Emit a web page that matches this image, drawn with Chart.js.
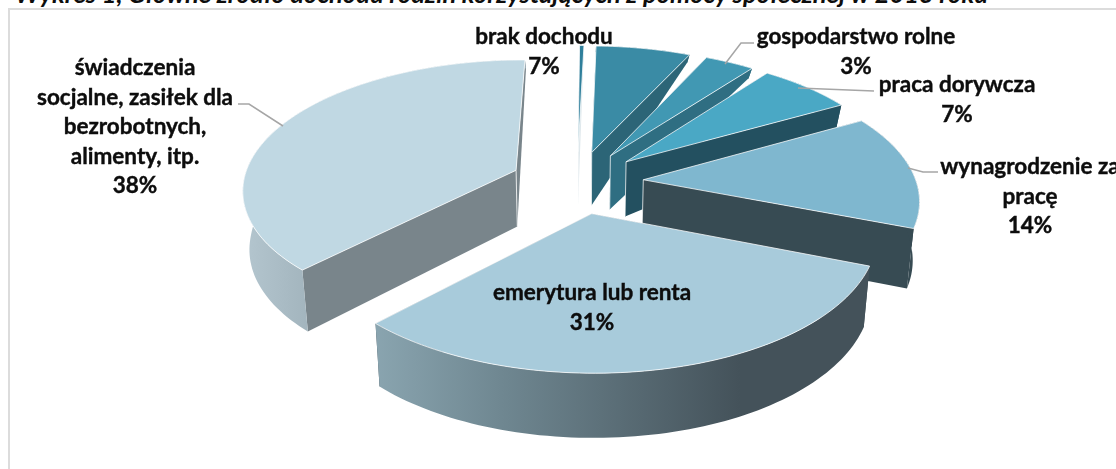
<!DOCTYPE html>
<html lang="pl">
<head>
<meta charset="utf-8">
<title>Wykres 1</title>
<script src="https://cdn.jsdelivr.net/npm/chart.js@4"></script>
<style>
    html, body { margin: 0; padding: 0; background: #fff; overflow: hidden; }
    #page { position: relative; width: 1116px; height: 469px; overflow: hidden; }
    #heading {
        position: absolute; right: 128px; top: -22px; line-height: 30px; white-space: nowrap;
        font-family: Lato, sans-serif; font-style: italic; font-weight: bold; font-size: 25.5px; color: #0d0d0d;
    }
    #panel {
        position: absolute; left: 8px; top: 8px; width: 1120px; height: 480px;
        border: 2px solid #dcdcdc; box-sizing: border-box;
    }
    canvas { position: absolute; left: 0; top: 0; }
</style>
</head>
<body>
<div id="page">
    <div id="heading">Wykres 1, Główne źródło dochodu rodzin korzystających z pomocy społecznej w 2013 roku</div>
    <div id="panel"></div>
    <canvas id="incomeChart" width="1116" height="469"></canvas>
</div>
<script>
// clockwise from the top of the pie; the first slice is the thin unlabelled one
const categories = ["", "brak dochodu", "gospodarstwo rolne", "praca dorywcza",
    "wynagrodzenie za pracę", "emerytura lub renta", "świadczenia socjalne, zasiłek dla bezrobotnych, alimenty, itp."];
const shares = [0.3, 6.5, 3.4, 6.5, 14.1, 31.3, 37.9];
const shareLabels = ["", "7%", "3%", "7%", "14%", "31%", "38%"];

const topColors = ["#2f7f9b", "#3a8ba5", "#4198b3", "#4aa8c5", "#7fb7cf", "#a8cbdb", "#c0d8e3"];
const wallColors = ["#dfe8ec", "#2c6577", "#2f6e82", "#235060", "#374b53", "#44525a", "#79858b"];

// label text blocks, line by line, with the place of each block
const labelBlocks = [
    { lines: ["brak dochodu", "7%"], x: 544, y: 37 },
    { lines: ["gospodarstwo rolne", "3%"], x: 856, y: 37 },
    { lines: ["praca dorywcza", "7%"], x: 957, y: 85 },
    { lines: ["wynagrodzenie za", "pracę", "14%"], x: 1030, y: 167 },
    { lines: ["emerytura lub renta", "31%"], x: 592, y: 293 },
    { lines: ["świadczenia", "socjalne, zasiłek dla", "bezrobotnych,", "alimenty, itp.", "38%"], x: 135, y: 68 }
];
const leaders = [
    [[238, 104], [249, 104], [283, 126]],
    [[754, 43], [741, 43], [725, 64]],
    [[874, 91], [798, 88]],
    [[938, 172], [923, 172], [908, 168]]
];

// tilted camera for the 3D look, fitted to the picture
const cam = { cx: 577, cy: 182, sx: 273, sy: 128.4, k: 0.136, lean: 0.98 };
const depthTable = [[-1.3, 5], [-0.95, 11], [-0.67, 23], [-0.24, 53], [0, 58], [1.3, 65]];

function depthAt(y) {
    for (let i = 1; i < depthTable.length; i++) {
        if (y <= depthTable[i][0]) {
            const [y0, d0] = depthTable[i - 1];
            const [y1, d1] = depthTable[i];
            return d0 + (d1 - d0) * (y - y0) / (y1 - y0);
        }
    }
    return depthTable[depthTable.length - 1][1];
}

function projectTop(x, y) {
    const s = 1 / (1 - cam.k * y);
    return { x: cam.cx + cam.sx * x * s, y: cam.cy + cam.sy * y * s };
}

function projectBottom(x, y) {
    const p = projectTop(x, y);
    return { x: cam.cx + (p.x - cam.cx) * cam.lean, y: p.y + depthAt(y) };
}

function fillPath(ctx, points, color) {
    ctx.beginPath();
    points.forEach((p, i) => i ? ctx.lineTo(p.x, p.y) : ctx.moveTo(p.x, p.y));
    ctx.closePath();
    ctx.fillStyle = color;
    ctx.fill();
}

function rimFill(ctx, i, fallback) {
    if (i === 5) {
        const g = ctx.createLinearGradient(373, 0, 740, 0);
        g.addColorStop(0, "#8aa5b0");
        g.addColorStop(0.35, "#6f8791");
        g.addColorStop(1, "#44525a");
        return g;
    }
    if (i === 6) {
        const g = ctx.createLinearGradient(243, 0, 310, 0);
        g.addColorStop(0, "#b4c6cf");
        g.addColorStop(1, "#a2b4bd");
        return g;
    }
    return fallback;
}

const pie3d = {
    id: "pie3d",
    beforeDatasetDraw(chart) {
        const ctx = chart.ctx;
        const arcs = chart.getDatasetMeta(0).data;
        // back slices first, the front slice last
        const order = [6, 0, 1, 2, 3, 4, 5];
        order.forEach(i => {
            const arc = arcs[i];
            const { startAngle, endAngle, outerRadius } = arc.getProps(["startAngle", "endAngle", "outerRadius"], true);
            const mid = (startAngle + endAngle) / 2;
            const boom = arc.options.offset / outerRadius;
            const ax = boom * Math.cos(mid);
            const ay = boom * Math.sin(mid);
            const rimTop = [];
            const rimBottom = [];
            const steps = Math.max(2, Math.ceil((endAngle - startAngle) * 40));
            for (let n = 0; n <= steps; n++) {
                const a = startAngle + (endAngle - startAngle) * n / steps;
                const x = ax + Math.cos(a);
                const y = ay + Math.sin(a);
                rimTop.push(projectTop(x, y));
                rimBottom.push(projectBottom(x, y));
            }
            const apexTop = projectTop(ax, ay);
            const apexBottom = projectBottom(ax, ay);
            const wall = wallColors[i];
            fillPath(ctx, [apexTop, rimTop[0], rimBottom[0], apexBottom], wall);
            fillPath(ctx, [apexTop, rimTop[steps], rimBottom[steps], apexBottom], wall);
            fillPath(ctx, rimTop.concat(rimBottom.slice().reverse()), rimFill(ctx, i, wall));
            // thin light edge of the walls
            ctx.strokeStyle = "rgba(255,255,255,0.75)";
            ctx.lineWidth = 1;
            ctx.beginPath();
            ctx.moveTo(apexTop.x, apexTop.y);
            ctx.lineTo(apexBottom.x, apexBottom.y);
            ctx.stroke();
            const face = [apexTop].concat(rimTop);
            fillPath(ctx, face, arc.options.backgroundColor);
            ctx.stroke();
        });
        return false;
    },
    afterDraw(chart) {
        const ctx = chart.ctx;
        ctx.save();
        ctx.strokeStyle = "#a6a6a6";
        ctx.lineWidth = 1.5;
        leaders.forEach(line => {
            ctx.beginPath();
            line.forEach((p, i) => i ? ctx.lineTo(p[0], p[1]) : ctx.moveTo(p[0], p[1]));
            ctx.stroke();
        });
        ctx.fillStyle = "#0d0d0d";
        ctx.strokeStyle = "#0d0d0d";
        ctx.lineWidth = 0.4;
        ctx.font = "bold 22.5px Lato, sans-serif";
        ctx.textAlign = "center";
        ctx.textBaseline = "middle";
        labelBlocks.forEach(block => {
            block.lines.forEach((line, i) => {
                ctx.fillText(line, block.x, block.y + i * 29.5);
                ctx.strokeText(line, block.x, block.y + i * 29.5);
            });
        });
        ctx.restore();
    }
};

new Chart(document.getElementById("incomeChart").getContext("2d"), {
    type: "pie",
    plugins: [pie3d],
    data: {
        labels: categories,
        datasets: [{
            data: shares,
            backgroundColor: topColors,
            borderWidth: 0,
            offset: 51
        }]
    },
    options: {
        responsive: false,
        animation: false,
        rotation: 0.4,
        layout: { padding: 0 },
        plugins: {
            legend: { display: false },
            tooltip: { enabled: false }
        }
    }
});
</script>
</body>
</html>
